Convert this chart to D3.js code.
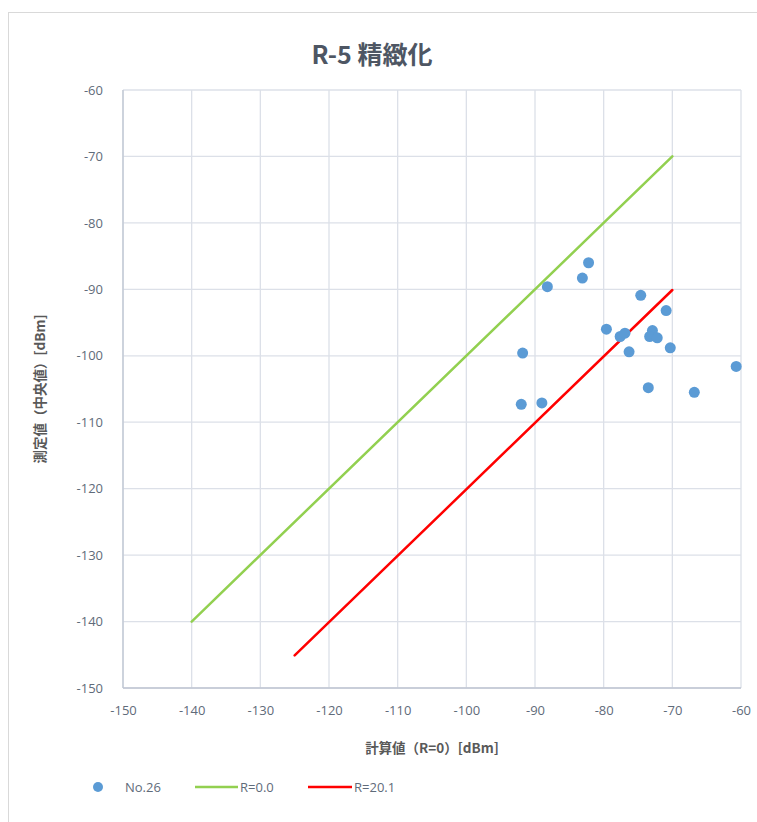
<!DOCTYPE html>
<html>
<head>
<meta charset="utf-8">
<script src="https://cdn.jsdelivr.net/npm/d3@7"></script>
<style>
  html, body { margin: 0; padding: 0; background: #fff; }
  svg { display: block; font-family: "Noto Sans CJK JP", "Open Sans", sans-serif; }
</style>
</head>
<body>
<svg id="chart" width="757" height="822"></svg>
<script>
// Measured points (No.26): calculated value (R=0) vs measured median, dBm
const calcValues = [-82.2, -83.1, -88.2, -74.6, -70.9, -79.6, -77.6, -76.9, -72.9, -73.3,
                    -72.2, -76.3, -70.3, -91.8, -60.7, -73.5, -66.8, -92.0, -89.0];
const measValues = [-86.0, -88.3, -89.6, -90.9, -93.2, -96.0, -97.1, -96.6, -96.2, -97.1,
                    -97.3, -99.4, -98.8, -99.6, -101.6, -104.8, -105.5, -107.3, -107.1];

// Reference lines: measured = calculated - R
const lineR0x = [-140, -70];
const lineR0y = [-140, -70];
const lineR20x = [-125, -70];
const lineR20y = [-145.1, -90.1];

const xTicks = [-150, -140, -130, -120, -110, -100, -90, -80, -70, -60];
const yTicks = [-60, -70, -80, -90, -100, -110, -120, -130, -140, -150];

const seriesNames = ["No.26", "R=0.0", "R=20.1"];
const colors = { pts: "#5B9BD5", r0: "#92D050", r20: "#FF0000" };

const svg = d3.select("#chart");

// outer chart frame
svg.append("rect")
  .attr("x", 8.5).attr("y", 12.5).attr("width", 760).attr("height", 830)
  .attr("fill", "#fff").attr("stroke", "#D9D9D9").attr("stroke-width", 1);

const plot = { left: 123, right: 741, top: 90, bottom: 688 };

const x = d3.scaleLinear().domain([-150, -60]).range([plot.left, plot.right]);
const y = d3.scaleLinear().domain([-150, -60]).range([plot.bottom, plot.top]);

// grid lines
const grid = svg.append("g");
grid.selectAll("line.v").data(xTicks).join("line")
  .attr("x1", d => x(d)).attr("x2", d => x(d))
  .attr("y1", plot.top).attr("y2", plot.bottom)
  .attr("stroke", "#DCE0E8").attr("stroke-width", 1.3);
grid.selectAll("line.h").data(yTicks).join("line")
  .attr("y1", d => y(d)).attr("y2", d => y(d))
  .attr("x1", plot.left).attr("x2", plot.right)
  .attr("stroke", "#DCE0E8").attr("stroke-width", 1.3);

// axes (tick labels only, plain hyphen minus)
const fmt = d => String(d);
const xAxis = svg.append("g")
  .attr("transform", `translate(0,${plot.bottom + 10})`)
  .call(d3.axisBottom(x).tickValues(xTicks).tickSize(0).tickPadding(8).tickFormat(fmt));
const yAxis = svg.append("g")
  .attr("transform", `translate(${plot.left - 12},0)`)
  .call(d3.axisLeft(y).tickValues(yTicks).tickSize(0).tickPadding(8).tickFormat(fmt));
[xAxis, yAxis].forEach(a => {
  a.select(".domain").remove();
  a.selectAll("text").attr("fill", "#5F6B7A").style("font-size", "13px")
    .style("font-family", "'Open Sans', sans-serif");
});
// left and bottom axis lines
svg.append("line").attr("x1", plot.left).attr("x2", plot.left)
  .attr("y1", plot.top).attr("y2", plot.bottom).attr("stroke", "#BFC6D2").attr("stroke-width", 1.3);
svg.append("line").attr("x1", plot.left).attr("x2", plot.right)
  .attr("y1", plot.bottom).attr("y2", plot.bottom).attr("stroke", "#BFC6D2").attr("stroke-width", 1.3);

// reference lines
const lineGen = d3.line().x(d => x(d[0])).y(d => y(d[1]));
svg.append("path").datum(d3.zip(lineR0x, lineR0y))
  .attr("d", lineGen).attr("fill", "none").attr("stroke", colors.r0)
  .attr("stroke-width", 2.5).attr("stroke-linecap", "round");
svg.append("path").datum(d3.zip(lineR20x, lineR20y))
  .attr("d", lineGen).attr("fill", "none").attr("stroke", colors.r20)
  .attr("stroke-width", 2.5).attr("stroke-linecap", "round");

// scatter points
svg.append("g").selectAll("circle").data(d3.zip(calcValues, measValues)).join("circle")
  .attr("cx", d => x(d[0])).attr("cy", d => y(d[1])).attr("r", 5.5)
  .attr("fill", colors.pts);

// title
svg.append("text").attr("x", 372).attr("y", 64).attr("text-anchor", "middle")
  .attr("fill", "#4E5663").style("font-size", "25px").style("font-weight", "bold")
  .text("R-5 精緻化");

// axis titles
svg.append("text").attr("x", (plot.left + plot.right) / 2).attr("y", 753)
  .attr("text-anchor", "middle").attr("fill", "#595959")
  .style("font-size", "13.5px").style("font-weight", "bold")
  .text("計算値（R=0）[dBm]");
svg.append("text")
  .attr("transform", `translate(45,${(plot.top + plot.bottom) / 2}) rotate(-90)`)
  .attr("text-anchor", "middle").attr("fill", "#595959")
  .style("font-size", "13.5px").style("font-weight", "bold")
  .text("測定値（中央値）[dBm]");

// legend
const lg = svg.append("g").style("font-size", "13px").style("font-family", "'Open Sans', sans-serif");
lg.append("circle").attr("cx", 98).attr("cy", 787).attr("r", 5).attr("fill", colors.pts);
lg.append("text").attr("x", 125).attr("y", 792).attr("fill", "#5F6B7A").text(seriesNames[0]);
lg.append("line").attr("x1", 195).attr("x2", 238).attr("y1", 787).attr("y2", 787)
  .attr("stroke", colors.r0).attr("stroke-width", 2.5);
lg.append("text").attr("x", 240).attr("y", 792).attr("fill", "#5F6B7A").text(seriesNames[1]);
lg.append("line").attr("x1", 308).attr("x2", 352).attr("y1", 787).attr("y2", 787)
  .attr("stroke", colors.r20).attr("stroke-width", 2.5);
lg.append("text").attr("x", 354).attr("y", 792).attr("fill", "#5F6B7A").text(seriesNames[2]);
</script>
</body>
</html>
